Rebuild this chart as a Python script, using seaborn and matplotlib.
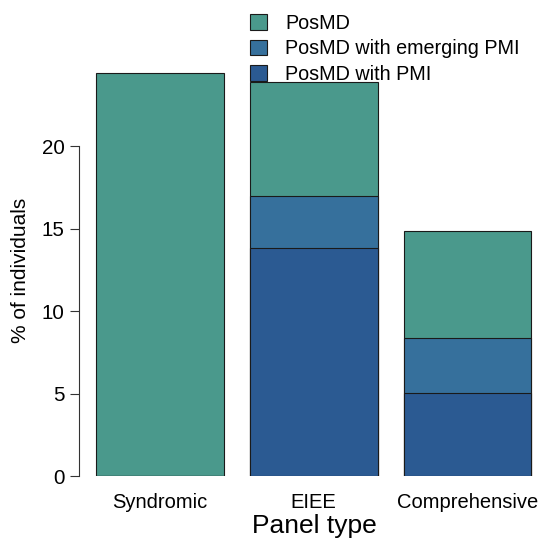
import matplotlib
matplotlib.use("Agg")
import matplotlib.pyplot as plt
from matplotlib.patches import Patch
import seaborn as sns
import pandas as pd
import numpy as np

panels = ["Syndromic", "EIEE", "Comprehensive"]
posmd_pmi = [0.0, 13.82, 5.06]
posmd_emerging = [0.0, 3.20, 3.30]
posmd_only = [24.45, 6.90, 6.52]

series_names = ["PosMD", "PosMD with emerging PMI", "PosMD with PMI"]
colors = ["#4A998C", "#36709C", "#2B5A92"]

sns.set_style("ticks")
plt.rcParams["font.family"] = ["Liberation Sans", "DejaVu Sans"]
plt.rcParams["text.color"] = "black"
plt.rcParams["axes.labelcolor"] = "black"
plt.rcParams["xtick.color"] = "black"
plt.rcParams["ytick.color"] = "black"

fig = plt.figure(figsize=(5.4, 5.45), dpi=100)
ax = fig.add_axes([79/540, 1-476/545, (538-79)/540, (476-64)/545])

c1 = np.array(posmd_pmi)
c2 = c1 + np.array(posmd_emerging)
c3 = c2 + np.array(posmd_only)
layers = [(c3, colors[0]), (c2, colors[1]), (c1, colors[2])]
for vals, col in layers:
    df = pd.DataFrame({"panel": panels, "value": vals})
    sns.barplot(data=df, x="panel", y="value", color=col, width=0.83,
                edgecolor="#1a1a1a", linewidth=0.8, saturation=1, ax=ax)

ax.set_xlim(-0.526, 2.458)
ax.set_ylim(0, 25)
ax.set_yticks([0, 5, 10, 15, 20])
ax.spines["top"].set_visible(False)
ax.spines["right"].set_visible(False)
ax.spines["bottom"].set_visible(False)
ax.spines["left"].set_bounds(0, 20)
ax.spines["left"].set_color("#333333")
ax.tick_params(axis="y", length=6.5, width=0.8, color="#333333", labelsize=14.8, pad=4)
ax.tick_params(axis="x", length=0, labelsize=14.5, pad=12)
ax.set_ylabel("% of individuals", fontsize=15, labelpad=8)
ax.set_xlabel("Panel type", fontsize=19, labelpad=0)
ax.xaxis.set_label_coords(0.513, -0.093)

handles = [Patch(facecolor=c, edgecolor="#1a1a1a", linewidth=0.8) for c in colors]
fig.legend(handles, series_names, loc="upper left", bbox_to_anchor=(242/540, 1-6/545),
           frameon=False, fontsize=14.2, handlelength=0.85, handleheight=0.85,
           handletextpad=0.95, labelspacing=0.33, borderaxespad=0)

fig.savefig("out.png", dpi=100)
